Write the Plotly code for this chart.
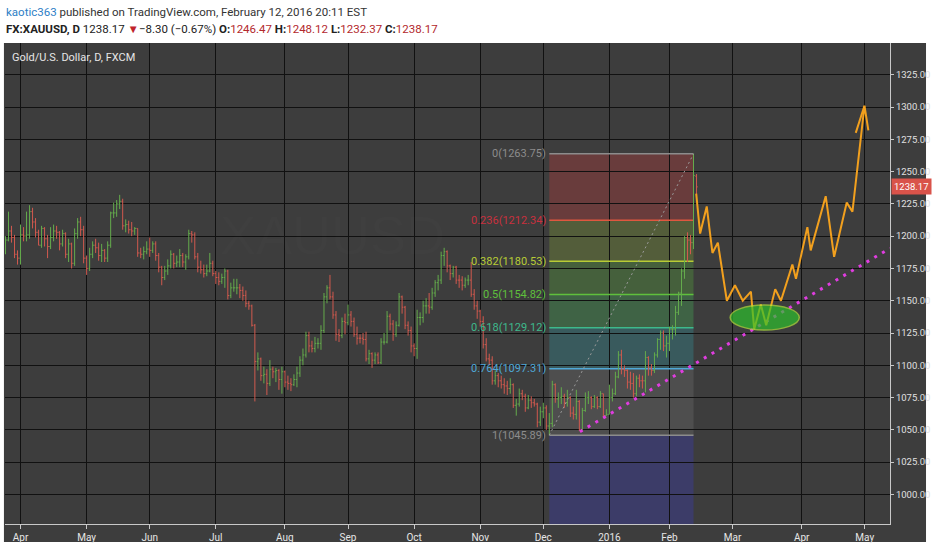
import pandas as pd
import plotly.graph_objects as go

# trading days (FXCM daily bars, no Christmas / New Year bar)
dates = pd.bdate_range("2015-03-24", "2016-05-31")
dates = dates.drop([pd.Timestamp("2015-12-25"), pd.Timestamp("2016-01-01")])

# XAUUSD daily bars, Mar 24 2015 -> Feb 12 2016
opens = [
    1190, 1191, 1197, 1204, 1199, 1186,
    1183, 1201, 1200, 1201, 1219, 1211, 1203, 1193, 1206, 1198, 1192, 1199, 1204, 1203, 1194, 1202, 1186, 1194, 1179, 1202, 1211, 1205,
    1183, 1175, 1186, 1193, 1191, 1185, 1189, 1183, 1193, 1218, 1218, 1225, 1227, 1208, 1209, 1205, 1204, 1206, 1187, 1186, 1188,
    1190, 1189, 1194, 1185, 1176, 1168, 1173, 1177, 1186, 1179, 1180, 1185, 1180, 1184, 1202, 1201, 1184, 1176, 1174, 1171, 1173, 1179,
    1171, 1168, 1165, 1168, 1173, 1154, 1160, 1160, 1160, 1158, 1154, 1148, 1146, 1131, 1103, 1105, 1092, 1093, 1086, 1097, 1095, 1096, 1089,
    1095, 1087, 1086, 1085, 1089, 1094, 1104, 1108, 1123, 1115, 1113, 1117, 1117, 1127, 1153, 1160, 1153, 1139, 1124, 1123, 1134,
    1133, 1139, 1134, 1124, 1121, 1121, 1120, 1105, 1109, 1104, 1108, 1102, 1118, 1118, 1138, 1132, 1124, 1131, 1153, 1145, 1131, 1127,
    1115, 1113, 1137, 1137, 1146, 1146, 1145, 1156, 1164, 1166, 1185, 1188, 1177, 1171, 1176, 1166, 1166, 1162, 1166, 1166, 1155, 1146,
    1142, 1134, 1116, 1105, 1104, 1088, 1092, 1088, 1085, 1084, 1082, 1085, 1069, 1070, 1078, 1076, 1067, 1073, 1071, 1070, 1056,
    1064, 1067, 1053, 1055, 1085, 1074, 1075, 1076, 1071, 1075, 1063, 1062, 1072, 1050, 1065, 1075, 1075, 1068, 1075, 1068, 1078, 1061,
    1062, 1075, 1078, 1091, 1108, 1097, 1096, 1087, 1086, 1078, 1090, 1088, 1088, 1106, 1098, 1096, 1108, 1120, 1125, 1115,
    1117, 1128, 1128, 1141, 1156, 1173, 1199, 1197, 1195, 1246.47,
]
highs = [
    1196, 1200, 1219, 1208, 1201, 1189,
    1209, 1207, 1219, 1224, 1222, 1214, 1205, 1208, 1207, 1201, 1207, 1209, 1208, 1204, 1205, 1203, 1198, 1195, 1206, 1214, 1215, 1208,
    1185, 1191, 1196, 1198, 1195, 1194, 1190, 1196, 1219, 1226, 1228, 1232, 1229, 1213, 1212, 1211, 1207, 1206, 1191, 1192, 1196,
    1199, 1196, 1196, 1187, 1177, 1177, 1182, 1189, 1187, 1185, 1190, 1187, 1186, 1205, 1204, 1203, 1187, 1181, 1178, 1178, 1187, 1181,
    1173, 1172, 1171, 1175, 1174, 1164, 1167, 1167, 1163, 1161, 1158, 1150, 1147, 1132, 1110, 1106, 1099, 1097, 1104, 1099, 1098, 1097, 1099,
    1096, 1092, 1090, 1093, 1099, 1107, 1113, 1126, 1126, 1119, 1122, 1121, 1131, 1156, 1162, 1170, 1157, 1142, 1128, 1137, 1140,
    1147, 1142, 1137, 1130, 1124, 1125, 1126, 1112, 1110, 1110, 1110, 1121, 1125, 1142, 1140, 1135, 1134, 1156, 1154, 1146, 1134, 1130,
    1117, 1143, 1141, 1150, 1152, 1156, 1160, 1166, 1170, 1188, 1191, 1189, 1178, 1177, 1177, 1170, 1169, 1168, 1170, 1180, 1159, 1150,
    1143, 1138, 1121, 1109, 1107, 1096, 1094, 1092, 1090, 1088, 1090, 1086, 1074, 1082, 1081, 1078, 1077, 1076, 1074, 1071, 1068,
    1071, 1069, 1063, 1088, 1086, 1079, 1083, 1078, 1081, 1076, 1068, 1081, 1073, 1067, 1079, 1080, 1076, 1077, 1076, 1080, 1078, 1066,
    1085, 1082, 1095, 1111, 1112, 1100, 1097, 1095, 1094, 1092, 1093, 1092, 1111, 1107, 1101, 1110, 1121, 1127, 1127, 1123,
    1130, 1131, 1146, 1157, 1175, 1200, 1203, 1201, 1263.75, 1248.12,
]
lows = [
    1185, 1186, 1196, 1195, 1183, 1178,
    1178, 1196, 1196, 1198, 1206, 1199, 1193, 1191, 1192, 1183, 1190, 1196, 1198, 1189, 1192, 1183, 1180, 1175, 1177, 1198, 1200, 1179,
    1170, 1173, 1183, 1187, 1181, 1180, 1180, 1180, 1191, 1214, 1215, 1221, 1205, 1203, 1202, 1200, 1201, 1184, 1183, 1182, 1186,
    1184, 1187, 1181, 1172, 1162, 1166, 1170, 1175, 1175, 1176, 1176, 1176, 1174, 1182, 1195, 1182, 1172, 1171, 1168, 1169, 1172, 1169,
    1163, 1162, 1163, 1160, 1151, 1152, 1157, 1155, 1152, 1150, 1145, 1143, 1130, 1072, 1096, 1088, 1086, 1077, 1084, 1090, 1087, 1081, 1078,
    1083, 1081, 1080, 1084, 1083, 1091, 1100, 1106, 1110, 1110, 1110, 1113, 1112, 1125, 1148, 1151, 1136, 1119, 1118, 1121, 1124,
    1131, 1130, 1122, 1116, 1117, 1116, 1103, 1101, 1098, 1101, 1101, 1101, 1116, 1117, 1127, 1119, 1122, 1130, 1140, 1128, 1123, 1110,
    1107, 1105, 1131, 1133, 1140, 1140, 1143, 1153, 1158, 1163, 1177, 1172, 1166, 1168, 1163, 1160, 1158, 1160, 1162, 1153, 1143, 1136,
    1130, 1113, 1103, 1100, 1085, 1085, 1083, 1082, 1078, 1077, 1078, 1067, 1061, 1068, 1073, 1064, 1066, 1067, 1068, 1052, 1053,
    1059, 1050, 1045.89, 1052, 1071, 1067, 1070, 1067, 1068, 1060, 1058, 1058, 1049, 1050, 1064, 1070, 1066, 1067, 1066, 1067, 1060, 1061,
    1062, 1072, 1077, 1090, 1093, 1091, 1082, 1081, 1075, 1076, 1083, 1082, 1079, 1092, 1092, 1094, 1106, 1112, 1111, 1106,
    1111, 1120, 1123, 1139, 1146, 1167, 1180, 1186, 1190, 1232.37,
]
closes = [
    1191, 1197, 1204, 1199, 1186, 1183,
    1201, 1200, 1201, 1219, 1211, 1203, 1193, 1206, 1198, 1192, 1199, 1204, 1203, 1194, 1202, 1186, 1194, 1179, 1202, 1211, 1205, 1183,
    1175, 1186, 1193, 1191, 1185, 1189, 1183, 1193, 1218, 1218, 1225, 1227, 1208, 1209, 1205, 1204, 1206, 1187, 1186, 1188, 1190,
    1189, 1194, 1185, 1176, 1168, 1173, 1177, 1186, 1179, 1180, 1185, 1180, 1184, 1202, 1201, 1184, 1176, 1174, 1171, 1173, 1179, 1171,
    1168, 1165, 1168, 1173, 1154, 1160, 1160, 1160, 1158, 1154, 1148, 1146, 1131, 1103, 1105, 1092, 1093, 1086, 1097, 1095, 1096, 1089, 1095,
    1087, 1086, 1085, 1089, 1094, 1104, 1108, 1123, 1115, 1113, 1117, 1117, 1127, 1153, 1160, 1153, 1139, 1124, 1123, 1134, 1133,
    1139, 1134, 1124, 1121, 1121, 1120, 1105, 1109, 1104, 1108, 1102, 1118, 1118, 1138, 1132, 1124, 1131, 1153, 1145, 1131, 1127, 1115,
    1113, 1137, 1137, 1146, 1146, 1145, 1156, 1164, 1166, 1185, 1188, 1177, 1171, 1176, 1166, 1166, 1162, 1166, 1166, 1155, 1146, 1142,
    1134, 1116, 1105, 1104, 1088, 1092, 1088, 1085, 1084, 1082, 1085, 1069, 1070, 1078, 1076, 1067, 1073, 1071, 1070, 1056, 1064,
    1067, 1053, 1055, 1085, 1074, 1075, 1076, 1071, 1075, 1063, 1062, 1072, 1050, 1065, 1075, 1075, 1068, 1075, 1068, 1078, 1061, 1062,
    1075, 1078, 1091, 1108, 1097, 1096, 1087, 1086, 1078, 1090, 1088, 1088, 1106, 1098, 1096, 1108, 1120, 1125, 1115, 1117,
    1128, 1128, 1141, 1156, 1173, 1199, 1197, 1195, 1247, 1238.17,
]
bar_x = list(range(len(closes)))

# fibonacci retracement (bar index of low / high, level prices from labels)
fib_x0, fib_x1 = 182, 230
fib_names = ["0", "0.236", "0.382", "0.5", "0.618", "0.764", "1"]
fib_prices = [1263.75, 1212.34, 1180.53, 1154.82, 1129.12, 1097.31, 1045.89]
fib_line_colors = ["#8c8c8c", "#e0573f", "#b8cc35", "#5fc03c", "#3db98c", "#4fa8d8", "#8c8c8c"]
fib_text_colors = ["#8c8c8c", "#c9303e", "#b8cc35", "#5fc03c", "#3db98c", "#4fa8d8", "#8c8c8c"]
fib_zone_colors = ["rgba(200,60,60,0.32)", "rgba(150,190,50,0.25)", "rgba(90,180,60,0.3)",
                   "rgba(70,190,90,0.3)", "rgba(50,160,170,0.3)", "rgba(150,150,150,0.2)"]
fib_ext_color = "rgba(60,60,175,0.38)"

# drawn trend line (dotted magenta) and hand-drawn forecast path
trend_x = [192.2, 295.4]
trend_y = [1048.6, 1190.6]
proj_x = [230.9, 232.2, 234.4, 236.3, 238.1, 241.1, 243.8, 246.4, 249.1, 250.2, 252.4, 254.2,
          257.2, 259.1, 262.9, 264.1, 267.9, 269.0, 274.0, 276.8, 281.0, 282.9, 286.9, 288.2]
proj_y = [1233, 1202, 1223, 1187, 1195, 1150, 1162, 1150, 1157, 1128, 1147, 1131,
          1159, 1150, 1178, 1167, 1207, 1189, 1231, 1184, 1226, 1219, 1301, 1282]
arrow_x = [284.0, 286.9]
arrow_y = [1280, 1301]
ellipse_x = [242.2, 265.2]
ellipse_y = [1127.3, 1146.7]

last_price = 1238.17
x_range = [0.83, 295.4]
y_range = [977.1, 1349.6]

# month ticks
tick_idx, tick_txt = [], []
prev = None
for i, d in enumerate(dates):
    if (d.year, d.month) != prev:
        prev = (d.year, d.month)
        tick_idx.append(i)
        tick_txt.append("2016" if (d.month == 1) else d.strftime("%b"))

FONT = "Roboto, Liberation Sans, sans-serif"

fig = go.Figure()

fig.add_trace(go.Ohlc(
    x=bar_x, open=opens, high=highs, low=lows, close=closes,
    increasing_line_color="#64ab4c", decreasing_line_color="#d0594e",
    line_width=1, tickwidth=0.4, hoverinfo="skip", showlegend=False,
))

# fib diagonal
fig.add_trace(go.Scatter(
    x=[fib_x0, fib_x1], y=[fib_prices[-1], fib_prices[0]], mode="lines",
    line=dict(color="#9a9a9a", width=1, dash="2px,3px"), hoverinfo="skip", showlegend=False,
))

# trend line
fig.add_trace(go.Scatter(
    x=trend_x, y=trend_y, mode="lines",
    line=dict(color="#e03de0", width=3, dash="3px,6px"), hoverinfo="skip", showlegend=False,
))

# forecast path
fig.add_trace(go.Scatter(
    x=proj_x, y=proj_y, mode="lines",
    line=dict(color="#f2a01e", width=2), hoverinfo="skip", showlegend=False,
))
fig.add_trace(go.Scatter(
    x=arrow_x, y=arrow_y, mode="lines",
    line=dict(color="#f2a01e", width=2), hoverinfo="skip", showlegend=False,
))

shapes = []
# dark chart container (paper coords, plot area is 5..890 x 43..524 px)
shapes.append(dict(type="rect", xref="paper", yref="paper", x0=-0.0012, x1=1.0407, y0=-0.0374, y1=1.0,
                   fillcolor="#3d3d3d", line_width=0, layer="below"))

# fib zones
for i in range(len(fib_zone_colors)):
    shapes.append(dict(type="rect", xref="x", yref="y", x0=fib_x0, x1=fib_x1,
                       y0=fib_prices[i + 1], y1=fib_prices[i],
                       fillcolor=fib_zone_colors[i], line_width=0, layer="below"))
shapes.append(dict(type="rect", xref="x", yref="y", x0=fib_x0, x1=fib_x1,
                   y0=y_range[0], y1=fib_prices[-1],
                   fillcolor=fib_ext_color, line_width=0, layer="below"))
# fib level lines
for p, c in zip(fib_prices, fib_line_colors):
    shapes.append(dict(type="line", xref="x", yref="y", x0=fib_x0, x1=fib_x1, y0=p, y1=p,
                       line=dict(color=c, width=1.5), layer="between"))

# green ellipse
shapes.append(dict(type="circle", xref="x", yref="y", x0=ellipse_x[0], x1=ellipse_x[1],
                   y0=ellipse_y[0], y1=ellipse_y[1], fillcolor="#2cc42c", opacity=0.68,
                   line=dict(color="#b4e83c", width=1.5), layer="above"))

annotations = []
for name, p, c in zip(fib_names, fib_prices, fib_text_colors):
    annotations.append(dict(x=fib_x0 - 0.6, y=p, xref="x", yref="y", text=f"{name}({p:.2f})",
                            showarrow=False, xanchor="right", yanchor="middle",
                            font=dict(family=FONT, size=11, color=c)))

# header
annotations.append(dict(
    x=-0.001, y=1.0644, xref="paper", yref="paper", xanchor="left", yanchor="middle", showarrow=False,
    text="<span style='color:#2e80c6'>kaotic363</span> published on TradingView.com, February 12, 2016 20:11 EST",
    font=dict(family=FONT, size=11.5, color="#333333"),
))
annotations.append(dict(
    x=-0.001, y=1.0291, xref="paper", yref="paper", xanchor="left", yanchor="middle", showarrow=False,
    text=("<b>FX:XAUUSD, D</b> 1238.17 <span style='color:#c0242b'>▼</span>\u22128.30 (\u22120.67%) "
          "<b>O:</b><span style='color:#b3282d'>1246.47</span> <b>H:</b><span style='color:#b3282d'>1248.12</span> "
          "<b>L:</b><span style='color:#b3282d'>1232.37</span> <b>C:</b><span style='color:#b3282d'>1238.17</span>"),
    font=dict(family=FONT, size=11.5, color="#222222"),
))
# symbol title
annotations.append(dict(
    x=0.0057, y=0.969, xref="paper", yref="paper", xanchor="left", yanchor="middle", showarrow=False,
    text="Gold/U.S. Dollar, D, FXCM", font=dict(family=FONT, size=11, color="#e6e6e6"),
))
# faint watermark
annotations.append(dict(
    x=0.37, y=0.6, xref="paper", yref="paper", showarrow=False, text="XAUUSD",
    font=dict(family="Liberation Sans, sans-serif", size=54, color="rgba(255,255,255,0.01)"),
))
# last price tag
annotations.append(dict(
    x=1.0, y=last_price, xref="paper", yref="y", xanchor="left", yanchor="middle", showarrow=False,
    text=f"{last_price:.2f}", bgcolor="#d9534a", borderpad=2, xshift=1,
    font=dict(family=FONT, size=9.5, color="#ffffff"),
))

fig.update_layout(
    width=932, height=550, autosize=False,
    margin=dict(l=5, r=42, t=43, b=26),
    paper_bgcolor="#ffffff", plot_bgcolor="#444444",
    shapes=shapes, annotations=annotations,
    showlegend=False,
    xaxis=dict(
        range=x_range, tickvals=tick_idx, ticktext=tick_txt,
        showgrid=True, gridcolor="#111111", gridwidth=1.2,
        showline=True, linecolor="#c8c8c8", linewidth=1,
        ticks="outside", ticklen=4, tickcolor="#c8c8c8",
        tickfont=dict(family=FONT, size=10, color="#e6e6e6"),
        zeroline=False, rangeslider=dict(visible=False), automargin=False, fixedrange=True,
    ),
    yaxis=dict(
        range=y_range, side="right", tick0=1000, dtick=25, tickformat=".2f",
        showgrid=True, gridcolor="#111111", gridwidth=1.2,
        showline=True, linecolor="#c8c8c8", linewidth=1,
        ticks="outside", ticklen=3, tickcolor="#c8c8c8",
        tickfont=dict(family=FONT, size=9.5, color="#e0e0e0"),
        zeroline=False, automargin=False, fixedrange=True,
    ),
)

fig.write_html("out.html", config={"displayModeBar": False},
               post_script="document.body.style.margin='0px';")
